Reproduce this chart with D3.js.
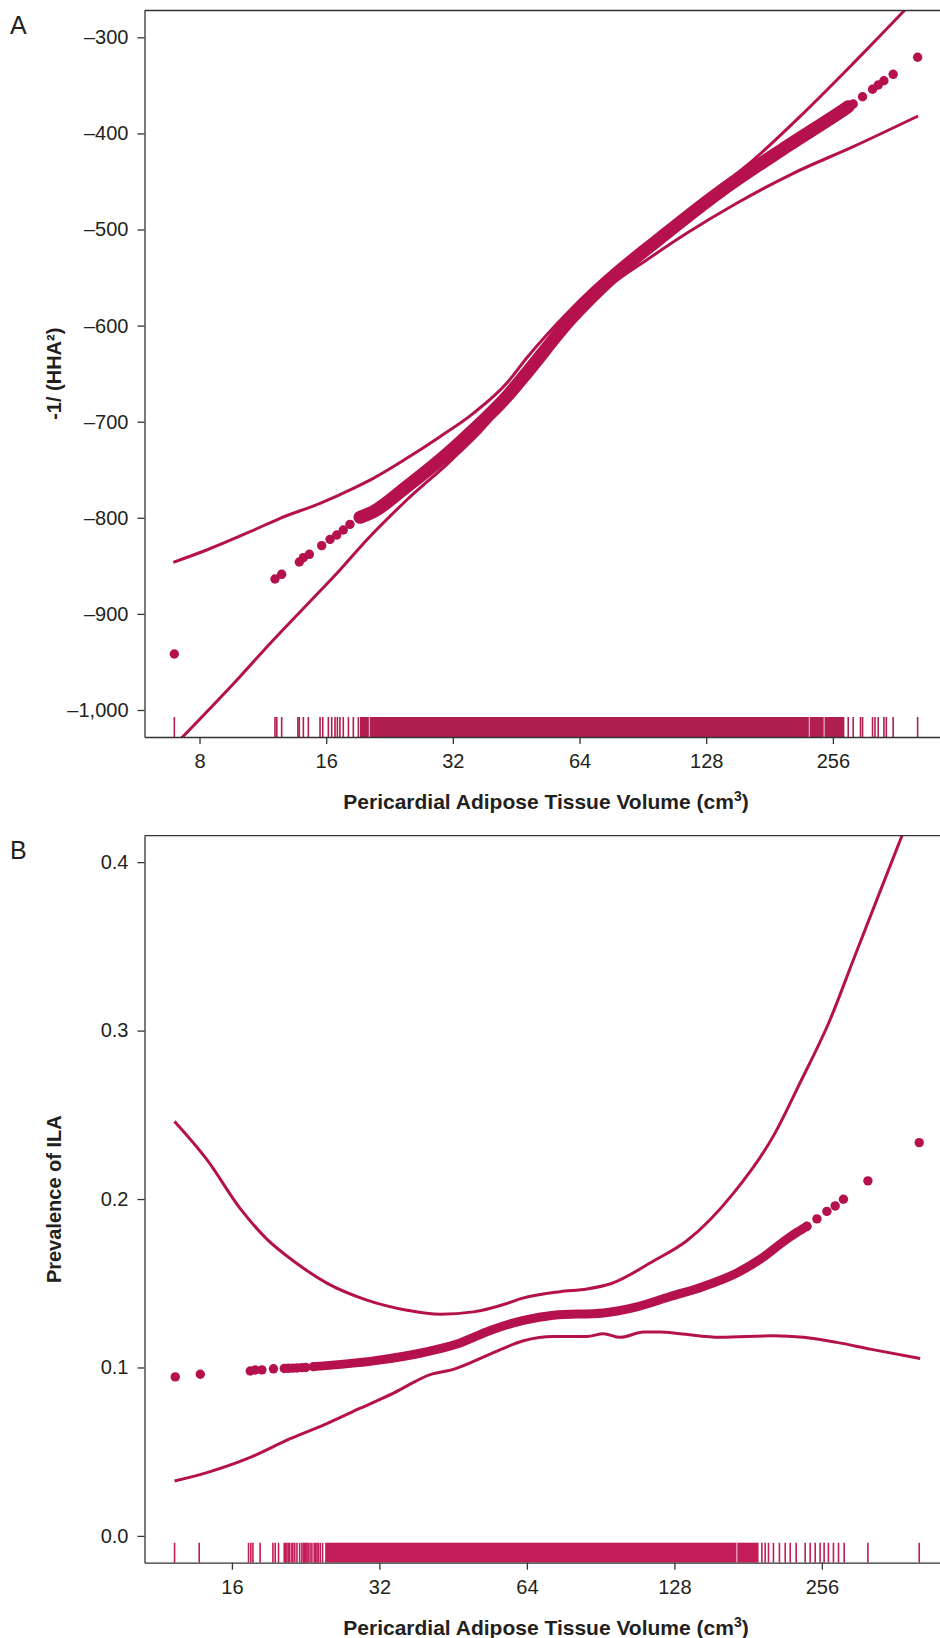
<!DOCTYPE html>
<html>
<head>
<meta charset="utf-8">
<script src="https://cdn.jsdelivr.net/npm/d3@7/dist/d3.min.js"></script>
<style>
  body { margin: 0; background: #fff; }
  svg text { font-family: "Liberation Sans", Arial, Helvetica, sans-serif; fill: #231f20; }
</style>
</head>
<body>
<div id="chart"></div>
<script>
// ---------- panel A : -1/(HHA^2) ----------
var xTicksA = [8, 16, 32, 64, 128, 256];
var yTicksA = [-300, -400, -500, -600, -700, -800, -900, -1000];

// fitted values that show up as single dots
var dotsA = [[6.97, -941.7], [12.09, -863.7], [12.54, -858.8], [13.81, -846], [14.12, -841.5],
    [14.59, -838], [15.61, -829], [16.34, -822.4], [16.95, -817.9], [17.57, -812.7], [18.22, -806.8],
    [19.25, -799.5], [278.4, -372.2], [286.1, -369.4], [301.1, -361.8], [318, -354.1], [328, -349.6],
    [338.4, -345.2], [356, -338.5], [407, -320.8]];
// where the dots pile up into a solid band
var bandA = [[19.25, -799.5], [20.7, -793.7], [24.86, -767.6], [29.82, -739.9], [35.78, -708.6],
    [42.95, -674], [47.92, -649.3], [60.7, -594.2], [76.9, -549.1], [99.4, -509.2], [138, -460.7],
    [198.7, -413.8], [270.9, -375.7], [278.4, -372.2]];
var upperA = [[6.93, -846.3], [8.32, -833.5], [10.55, -814.5], [12.43, -800.5], [15.47, -784.9],
    [18.56, -769.3], [20.7, -758.9], [24.86, -738.1], [29.82, -715.6], [35.78, -691.3], [42.95, -660],
    [47.92, -633.7], [60.7, -584], [76.9, -542.1], [95.6, -510.9], [101.2, -502.3], [128.3, -465.9],
    [165.5, -427.7], [217.7, -379.1], [286.1, -327.1], [376, -273.4], [400, -261]];
var lowerA = [[6.93, -1038], [9.98, -965.3], [11.98, -927.2], [14.38, -890.7], [17.25, -854.3],
    [19.97, -823.1], [24.86, -781.5], [32.07, -738.1], [39.91, -694.8], [46.2, -651.4], [60.7, -600],
    [76.9, -556], [92.4, -531.7], [115, -504], [151.2, -472.7], [206.1, -441.5], [286.1, -413.8],
    [408, -381.9]];
var rugA = [6.97, 12.09, 12.21, 12.54, 13.70, 13.81, 14.12, 14.51, 15.47, 15.70, 16.19, 16.49, 16.79,
    17.01, 17.25, 17.57, 18.07, 18.56, 19.08, 278.4, 286.1, 297.7, 301.1, 318, 322.3, 328, 338.4,
    342.9, 356, 407];
var rugDenseA = [19.25, 272.6];
var rugGapsA = [20.26, 225, 244];

// ---------- panel B : prevalence of ILA ----------
var xTicksB = [16, 32, 64, 128, 256];
var yTicksB = [0.0, 0.1, 0.2, 0.3, 0.4];

var dotsB = [[12.26, 0.0944], [13.79, 0.0960], [17.44, 0.0979], [17.85, 0.0985], [18.42, 0.0986],
    [19.45, 0.0992], [20.46, 0.0994], [20.87, 0.0995], [21.31, 0.0996], [21.72, 0.0997], [22.23, 0.0999],
    [22.64, 0.1000], [23.48, 0.1005], [238.6, 0.1838], [250.1, 0.1882], [262.1, 0.1927],
    [272.5, 0.1959], [283.3, 0.1999], [317.8, 0.2108], [404.5, 0.2335]];
var bandB = [[23.48, 0.1005], [31.13, 0.1039], [39.37, 0.1089], [46.06, 0.1139], [53.86, 0.1220],
    [62.99, 0.1280], [72.52, 0.1310], [91.73, 0.1324], [107.3, 0.1360], [125.5, 0.1421],
    [146.8, 0.1481], [171.7, 0.1561], [191.6, 0.1642], [217.2, 0.1762], [227.6, 0.1802], [238.6, 0.1838]];
var upperB = [[12.22, 0.2461], [14.23, 0.2234], [16.64, 0.1943], [18.86, 0.1762], [21.37, 0.1632],
    [25.0, 0.1501], [30.18, 0.1400], [36.42, 0.1340], [42.58, 0.1316], [49.8, 0.1330], [58.26, 0.1380],
    [62.5, 0.1410], [74.85, 0.1450], [84.85, 0.1466], [94.9, 0.1497], [116.0, 0.1632], [135.7, 0.1752],
    [169.0, 0.2035], [203.9, 0.2375], [231.2, 0.2692], [266.2, 0.3066],
    [297.0, 0.3422], [336.7, 0.3828], [372.8, 0.4155], [380.5, 0.422]];
var lowerB = [[12.22, 0.0326], [14.23, 0.0376], [17.44, 0.0466], [21.04, 0.0577], [25.0, 0.0667],
    [29.24, 0.0758], [34.2, 0.0848], [40.63, 0.0958], [45.33, 0.0989], [53.86, 0.1079],
    [62.99, 0.1159], [72.52, 0.1184], [84.85, 0.1184], [91.73, 0.1200], [99.2, 0.1179],
    [110.7, 0.1210], [119.7, 0.1210], [131.5, 0.1200], [158.7, 0.1179], [203.9, 0.1188],
    [234.8, 0.1179], [274.7, 0.1149], [321.3, 0.1109], [406.3, 0.1053]];
var rugB = [12.22, 13.72, 17.30, 17.49, 17.66, 18.27, 19.40, 19.61, 19.92, 20.46, 20.6, 20.72, 20.87,
    21.0, 21.21, 21.31, 21.5, 21.72, 22.0, 22.23, 22.40, 22.5, 22.64, 22.76, 22.9, 23.1, 23.3, 23.55,
    23.7, 23.86, 24.0, 24.23, 24.5, 193.1, 196.1, 199.2, 203.9, 209.7,
    215.5, 220.6, 226.9, 236.7, 242.3, 248.1, 253.9, 258.7, 264.0, 270.3, 276.8, 284.3, 317.8, 404.5];
var rugDenseB = [24.8, 190.1];
var rugGapsB = [171.7];

var lineColor = "#b5114d";

var svg = d3.select("#chart").append("svg")
    .attr("width", 940)
    .attr("height", 1638);

function drawPanel(cfg) {
    var w = cfg.width, h = cfg.height;
    var g = svg.append("g").attr("transform", "translate(" + cfg.left + "," + cfg.top + ")");

    var x = d3.scaleLog().base(2).domain(cfg.xDomain).range([0, w]);
    var y = d3.scaleLinear().domain(cfg.yDomain).range([h, 0]);

    g.append("clipPath").attr("id", cfg.id + "-clip")
        .append("rect").attr("width", w).attr("height", h);
    var plot = g.append("g").attr("clip-path", "url(#" + cfg.id + "-clip)");

    // rug
    plot.append("rect")
        .attr("x", x(cfg.rugDense[0]))
        .attr("width", x(cfg.rugDense[1]) - x(cfg.rugDense[0]))
        .attr("y", h - 20).attr("height", 20)
        .attr("fill", cfg.rugColor);
    plot.selectAll(".gap").data(cfg.rugGaps).enter().append("line")
        .attr("x1", function(d) { return x(d); }).attr("x2", function(d) { return x(d); })
        .attr("y1", h - 20).attr("y2", h)
        .attr("stroke", "#fff").attr("stroke-opacity", 0.8).attr("stroke-width", 1);
    plot.selectAll(".rug").data(cfg.rug).enter().append("line")
        .attr("x1", function(d) { return x(d); }).attr("x2", function(d) { return x(d); })
        .attr("y1", h - 20).attr("y2", h)
        .attr("stroke", cfg.rugColor).attr("stroke-width", 1.6);

    var line = d3.line()
        .x(function(d) { return x(d[0]); })
        .y(function(d) { return y(d[1]); })
        .curve(d3.curveMonotoneX);

    [cfg.upper, cfg.lower].forEach(function(ci) {
        plot.append("path").datum(ci)
            .attr("fill", "none")
            .attr("stroke", lineColor)
            .attr("stroke-width", 3)
            .attr("d", line);
    });

    plot.append("path").datum(cfg.band)
        .attr("fill", "none")
        .attr("stroke", lineColor)
        .attr("stroke-width", cfg.bandWidth)
        .attr("stroke-linecap", "round")
        .attr("stroke-linejoin", "round")
        .attr("d", line);

    plot.selectAll(".dot").data(cfg.dots).enter().append("circle")
        .attr("cx", function(d) { return x(d[0]); })
        .attr("cy", function(d) { return y(d[1]); })
        .attr("r", 4.7)
        .attr("fill", lineColor);

    // axes
    var xAxis = g.append("g")
        .attr("transform", "translate(0," + h + ")")
        .call(d3.axisBottom(x).tickValues(cfg.xTicks).tickFormat(d3.format("d"))
            .tickSize(7).tickSizeOuter(0).tickPadding(10));
    var yAxis = g.append("g")
        .call(d3.axisLeft(y).tickValues(cfg.yTicks).tickFormat(cfg.yFormat)
            .tickSize(7).tickSizeOuter(0).tickPadding(9));
    [xAxis, yAxis].forEach(function(a) {
        a.selectAll(".domain, .tick line").attr("stroke", "#333").attr("stroke-width", 1.3);
        a.selectAll("text").attr("font-size", 20).attr("fill", "#231f20")
            .style("font-family", "'Liberation Sans', Arial, sans-serif");
    });

    // top edge of the frame
    g.append("line").attr("x1", 0).attr("x2", w).attr("y1", 0).attr("y2", 0)
        .attr("stroke", "#333").attr("stroke-width", 1.3);

    // panel letter
    svg.append("text").attr("x", 10).attr("y", cfg.top + 23)
        .attr("font-size", 25).text(cfg.id);

    // x title
    var xt = svg.append("text")
        .attr("x", 546).attr("y", cfg.top + h + 72)
        .attr("text-anchor", "middle")
        .attr("font-size", 21).attr("font-weight", "bold");
    xt.append("tspan").text("Pericardial Adipose Tissue Volume (cm");
    xt.append("tspan").attr("dy", -8).attr("font-size", 14).text("3");
    xt.append("tspan").attr("dy", 8).text(")");

    // y title
    svg.append("text")
        .attr("transform", "translate(61," + (cfg.top + h / 2) + ") rotate(-90)")
        .attr("text-anchor", "middle")
        .attr("font-size", 20).attr("font-weight", "bold")
        .text(cfg.yTitle);
}

drawPanel({
    id: "A", left: 144.5, top: 10.5, width: 795.5, height: 726.5,
    xDomain: [5.92, 460], yDomain: [-1028.1, -272.1],
    xTicks: xTicksA, yTicks: yTicksA,
    yFormat: function(d) { return d3.format(",")(d).replace("−", "–").replace("-", "–"); },
    yTitle: "-1/ (HHA²)",
    dots: dotsA, band: bandA, bandWidth: 13, upper: upperA, lower: lowerA,
    rug: rugA, rugDense: rugDenseA, rugGaps: rugGapsA, rugColor: "#b01f50"
});

drawPanel({
    id: "B", left: 144.5, top: 835.7, width: 795.5, height: 727,
    xDomain: [10.61, 446], yDomain: [-0.0159, 0.4157],
    xTicks: xTicksB, yTicks: yTicksB,
    yFormat: d3.format(".1f"),
    yTitle: "Prevalence of ILA",
    dots: dotsB, band: bandB, bandWidth: 9, upper: upperB, lower: lowerB,
    rug: rugB, rugDense: rugDenseB, rugGaps: rugGapsB, rugColor: "#c21d57"
});
</script>
</body>
</html>
